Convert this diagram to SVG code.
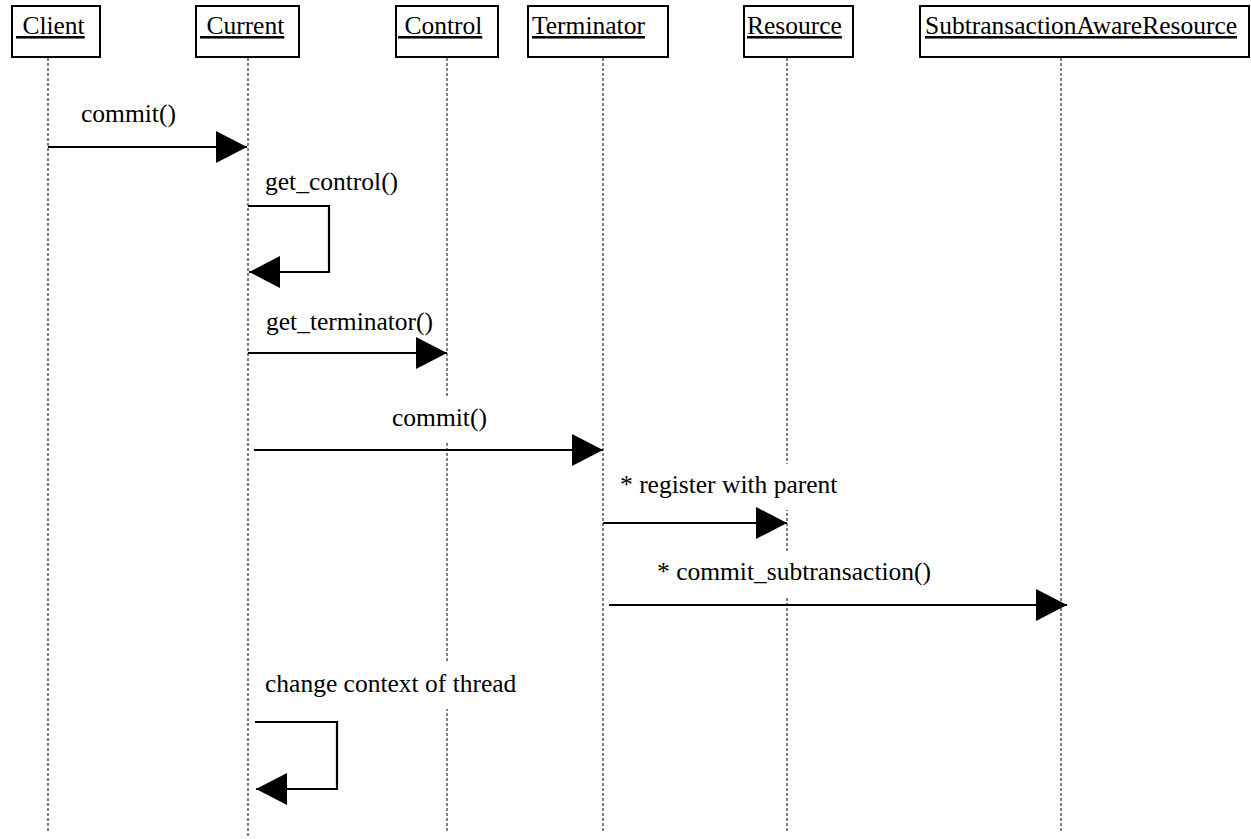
<svg xmlns="http://www.w3.org/2000/svg" width="1251" height="839" viewBox="0 0 1251 839">
<style>
  text { font-family: "Liberation Serif", "Times New Roman", serif; font-size: 25.5px; fill: #000; }
  .box { fill: #fff; stroke: #000; stroke-width: 2; }
  .name { text-decoration: underline; }
  .life { stroke: #000; stroke-width: 1; stroke-dasharray: 3 2; fill: none; }
  .msg { stroke: #000; stroke-width: 2.2; fill: none; marker-end: url(#head); }
  .lbg { fill: #fff; stroke: none; }
</style>
<defs>
  <marker id="head" markerUnits="userSpaceOnUse" markerWidth="32" markerHeight="33" refX="31" refY="16" orient="auto">
    <path d="M0,0 L31,16 L0,32 Z" fill="#000"/>
  </marker>
</defs>
<rect width="1251" height="839" fill="#fff"/>

<g id="Client">
  <line class="life" x1="48" y1="58" x2="48" y2="832"/>
  <rect class="box" x="12" y="6" width="88" height="51"/>
  <text class="name" x="16" y="34" xml:space="preserve"> Client</text>
</g>
<g id="Current">
  <line class="life" x1="248" y1="58" x2="248" y2="837"/>
  <rect class="box" x="196" y="6" width="103" height="51"/>
  <text class="name" x="200" y="34" xml:space="preserve"> Current</text>
</g>
<g id="Control">
  <line class="life" x1="447" y1="58" x2="447" y2="832"/>
  <rect class="box" x="396" y="6" width="102" height="51"/>
  <text class="name" x="398" y="34" xml:space="preserve"> Control</text>
</g>
<g id="Terminator">
  <line class="life" x1="603" y1="58" x2="603" y2="832"/>
  <rect class="box" x="528" y="6" width="140" height="51"/>
  <text class="name" x="532" y="34">Terminator</text>
</g>
<g id="Resource">
  <line class="life" x1="787" y1="58" x2="787" y2="832"/>
  <rect class="box" x="744" y="6" width="109" height="51"/>
  <text class="name" x="747" y="34">Resource</text>
</g>
<g id="SubtransactionAwareResource">
  <line class="life" x1="1061" y1="58" x2="1061" y2="832"/>
  <rect class="box" x="920" y="6" width="329" height="51"/>
  <text class="name" x="925" y="34">SubtransactionAwareResource</text>
</g>

<g id="connectors">
  <rect class="lbg" x="388" y="397" width="104" height="46"/>
  <rect class="lbg" x="616" y="464" width="226" height="46"/>
  <rect class="lbg" x="653" y="551" width="287" height="46"/>
  <rect class="lbg" x="261" y="663" width="262" height="46"/>

  <text x="81" y="122">commit()</text>
  <path class="msg" d="M48,147 H247"/>

  <text x="265" y="190">get_control()</text>
  <path class="msg" d="M248,206 H329 V272 H249"/>

  <text x="266" y="330">get_terminator()</text>
  <path class="msg" d="M248,353 H447"/>

  <text x="392" y="426">commit()</text>
  <path class="msg" d="M254,450 H603"/>

  <text x="620" y="493">* register with parent</text>
  <path class="msg" d="M603,523 H787"/>

  <text x="657" y="580">* commit_subtransaction()</text>
  <path class="msg" d="M609,605 H1067"/>

  <text x="265" y="692">change context of thread</text>
  <path class="msg" d="M255,722 H337 V789 H256"/>
</g>
</svg>
